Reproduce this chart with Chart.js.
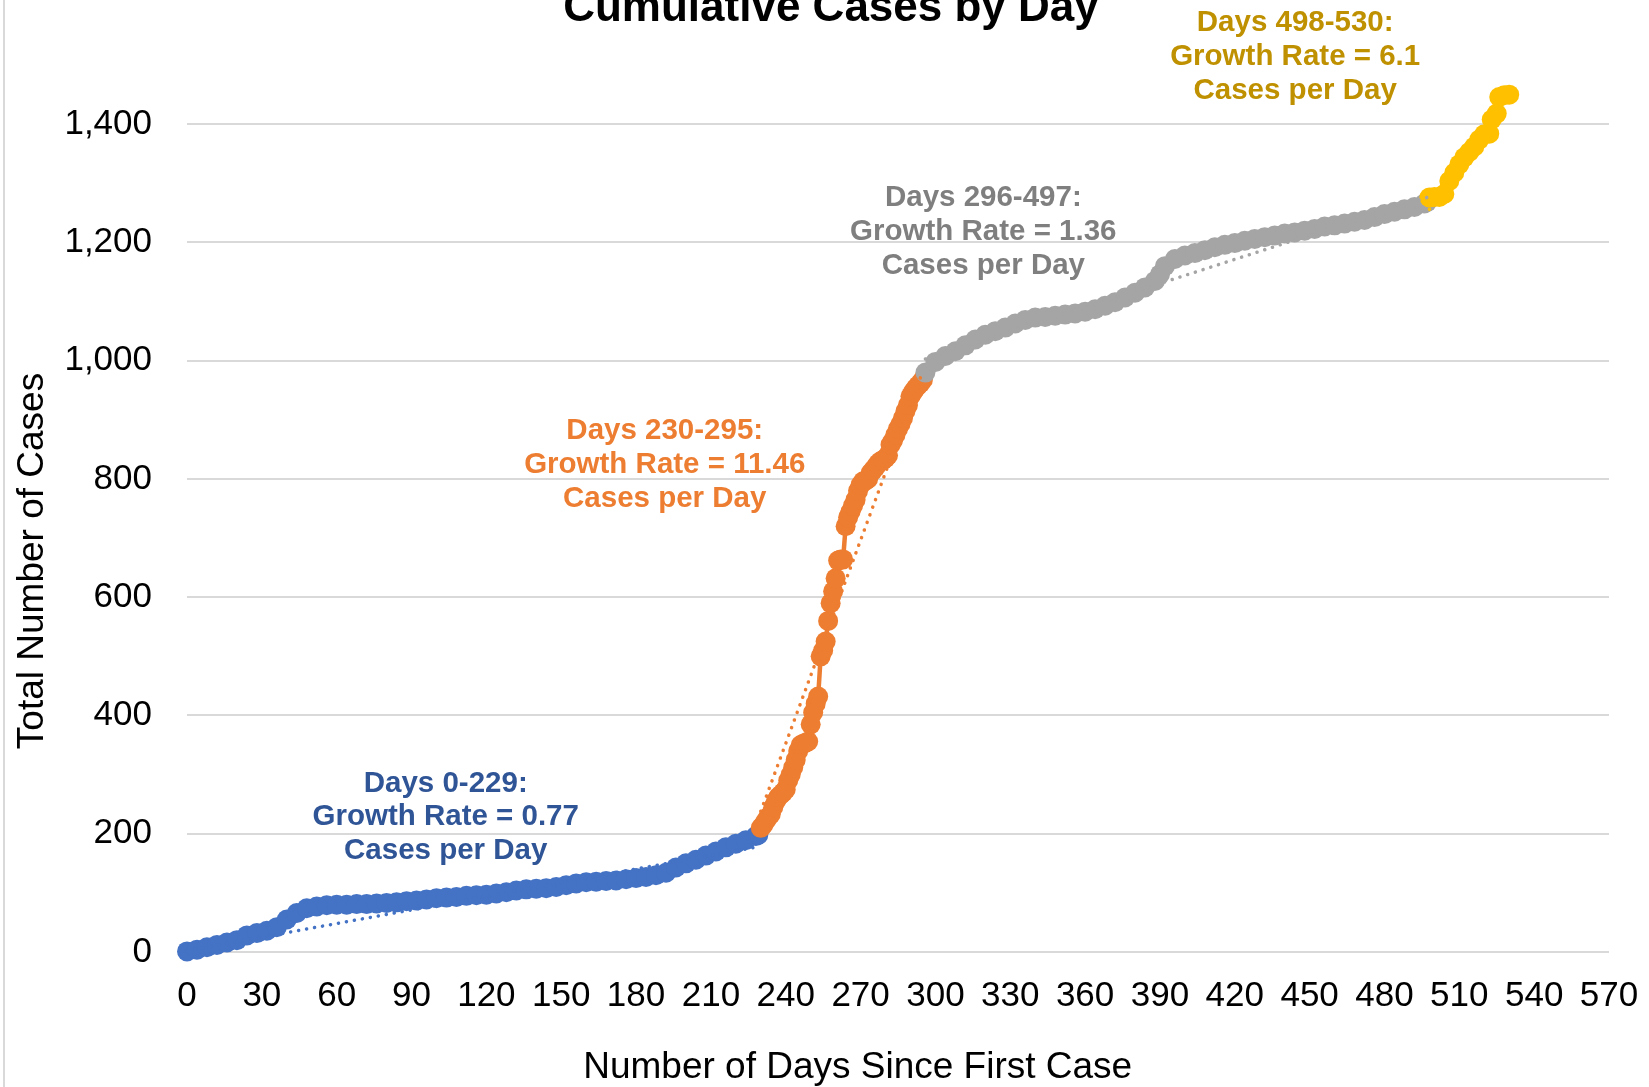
<!DOCTYPE html>
<html>
<head>
<meta charset="utf-8">
<script src="https://cdn.jsdelivr.net/npm/chart.js@4.4.1/dist/chart.umd.min.js"></script>
<style>
  html, body { margin: 0; padding: 0; background: #ffffff; overflow: hidden; }
  body { width: 1649px; height: 1087px; position: relative; }
  #wrap { position: absolute; left: 0; top: -18px; width: 1649px; height: 1105px; }
  #frame { position: absolute; left: 3px; top: 0; width: 2px; height: 1087px; background: #d9d9d9; }
</style>
</head>
<body>
<div id="frame"></div>
<div id="wrap"><canvas id="c" width="1649" height="1105"></canvas></div>
<script>
// ---------------- data ----------------
const chartTitle = "Cumulative Cases by Day";
const xAxisTitle = "Number of Days Since First Case";
const yAxisTitle = "Total Number of Cases";
const yTickValues = [0, 200, 400, 600, 800, 1000, 1200, 1400];

const blueDays  = [0,4,8,12,16,20,24,28,32,36,40,44,48,52,56,60,64,68,72,76,80,84,88,92,96,100,104,108,112,116,120,124,128,132,136,140,144,148,152,156,160,164,168,172,176,180,184,188,192,196,200,204,208,212,216,220,224,228,229];
const blueCases = [1,4,8,12,16,20,28,32,36,42,55,66,74,77,79,80,80,81,81,82,83,84,86,87,89,91,92,93,95,96,97,99,101,104,106,107,108,110,113,116,118,119,120,121,123,125,127,130,134,143,150,156,163,170,177,183,189,196,198];

const orangeDays  = [230,231,232,233,234,235,236,237,238,239,240,241,242,243,244,245,246,247,248,249,250,251,252,253,254,255,256,257,258,259,260,261,262,263,264,265,266,267,268,269,270,271,272,273,274,275,276,277,278,279,280,281,282,283,284,285,286,287,288,289,290,291,292,293,294,295];
const orangeCases = [210,215,222,228,233,245,255,262,266,270,275,290,300,312,325,340,350,352,354,356,385,405,420,432,500,510,525,560,590,610,632,662,664,664,720,735,745,755,765,780,790,796,797,800,810,815,820,826,830,832,835,840,858,865,875,885,893,903,915,925,940,947,953,958,962,968];

const grayDays  = [296,300,304,308,312,316,320,324,328,332,336,340,344,348,352,356,360,364,368,372,376,380,384,388,390,392,396,400,404,408,412,416,420,424,428,432,436,440,444,448,452,456,460,464,468,472,476,480,484,488,492,496,497];
const grayCases = [980,998,1008,1016,1026,1036,1044,1050,1056,1063,1069,1073,1074,1076,1078,1080,1083,1087,1093,1099,1107,1115,1124,1135,1146,1160,1172,1178,1182,1187,1192,1196,1199,1203,1206,1209,1212,1215,1217,1220,1223,1227,1229,1232,1235,1238,1243,1248,1252,1256,1260,1266,1268];

const yellowDays  = [498,500,502,504,506,508,510,512,514,516,518,520,522,523,525,526,528,530];
const yellowCases = [1276,1277,1277,1282,1304,1318,1332,1344,1353,1362,1374,1383,1384,1408,1418,1446,1449,1450];

// linear trendlines (endpoints)
const trendStartDay   = [0, 230, 296, 498];
const trendStartCases = [2, 238, 1003, 1256];
const trendEndDay     = [229, 295, 497, 530];
const trendEndCases   = [178, 983, 1276, 1451];

const segmentLabels = [
  ["Days 0-229:", "Growth Rate = 0.77", "Cases per Day"],
  ["Days 230-295:", "Growth Rate = 11.46", "Cases per Day"],
  ["Days 296-497:", "Growth Rate = 1.36", "Cases per Day"],
  ["Days 498-530:", "Growth Rate = 6.1", "Cases per Day"]
];

// ---------------- styles / positions ----------------
const seriesColors = ["#4472C4", "#ED7D31", "#A5A5A5", "#FFC000"];
const labelColors  = ["#2F5597", "#ED7D31", "#7F7F7F", "#BF9000"];
const labelAnchors = [ {x:103.7, y:228}, {x:191.5, y:824}, {x:319.2, y:1218}, {x:444.2, y:1514} ];
const FONT = "'Liberation Sans', Arial, sans-serif";

function pts(days, vals) { return days.map((d, i) => ({ x: d, y: vals[i] })); }

const seriesData = [pts(blueDays, blueCases), pts(orangeDays, orangeCases), pts(grayDays, grayCases), pts(yellowDays, yellowCases)];

const datasets = [];
seriesData.forEach((d, i) => {
  datasets.push({
    label: "Segment " + (i + 1),
    data: d,
    borderColor: seriesColors[i],
    backgroundColor: seriesColors[i],
    pointBackgroundColor: seriesColors[i],
    pointBorderColor: seriesColors[i],
    pointRadius: 10,
    pointBorderWidth: 0,
    borderWidth: 4.5,
    showLine: true,
    tension: 0,
    clip: false,
    order: 4 - i
  });
});
for (let i = 0; i < 4; i++) {
  datasets.push({
    label: "Trend " + (i + 1),
    data: [{ x: trendStartDay[i], y: trendStartCases[i] }, { x: trendEndDay[i], y: trendEndCases[i] }],
    borderColor: seriesColors[i],
    borderWidth: 3.5,
    borderDash: [0.1, 8],
    borderCapStyle: 'round',
    pointRadius: 0,
    showLine: true,
    fill: false,
    clip: false,
    order: 0
  });
}

const annotationPlugin = {
  id: 'segmentText',
  afterDatasetsDraw(chart) {
    const ctx = chart.ctx;
    const xs = chart.scales.x, ys = chart.scales.y;
    ctx.save();
    ctx.textAlign = 'center';
    ctx.textBaseline = 'middle';
    ctx.font = "bold 29.5px " + FONT;
    segmentLabels.forEach((lines, i) => {
      const cx = xs.getPixelForValue(labelAnchors[i].x);
      const cy = ys.getPixelForValue(labelAnchors[i].y);
      ctx.fillStyle = labelColors[i];
      lines.forEach((t, k) => ctx.fillText(t, cx, cy + (k - 1) * 33.8));
    });
    // axis titles
    ctx.fillStyle = "#000000";
    ctx.font = "37px " + FONT;
    ctx.fillText(xAxisTitle, 857.7, 1086);
    ctx.translate(32.5, 579);
    ctx.rotate(-Math.PI / 2);
    ctx.fillText(yAxisTitle, 0, 0);
    ctx.restore();
  }
};

new Chart(document.getElementById('c'), {
  type: 'scatter',
  data: { datasets },
  options: {
    responsive: false,
    animation: false,
    devicePixelRatio: 1,
    layout: { padding: { left: 13, right: 0, top: 0, bottom: 0 } },
    plugins: {
      legend: { display: false },
      tooltip: { enabled: false },
      title: {
        display: true,
        text: chartTitle,
        color: "#000000",
        font: { family: FONT, size: 44, weight: 'bold' },
        padding: { top: 0, bottom: 30.3 }
      }
    },
    scales: {
      x: {
        type: 'linear',
        min: 0, max: 570,
        ticks: { stepSize: 30, color: "#000000", font: { family: FONT, size: 35 }, padding: 23, maxRotation: 0, autoSkip: false },
        grid: { display: false, drawTicks: false },
        border: { display: false },
        afterFit(scale) { scale.height = 135; scale.paddingLeft = 0; scale.paddingRight = 40; }
      },
      y: {
        type: 'linear',
        min: 0, max: 1500,
        ticks: { color: "#000000", font: { family: FONT, size: 35 }, padding: 35 },
        grid: { color: "#d9d9d9", lineWidth: 2, drawTicks: false },
        border: { display: false },
        afterBuildTicks(scale) { scale.ticks = yTickValues.map(v => ({ value: v })); },
        afterFit(scale) { scale.width = 174; }
      }
    }
  },
  plugins: [annotationPlugin]
});
</script>
</body>
</html>
